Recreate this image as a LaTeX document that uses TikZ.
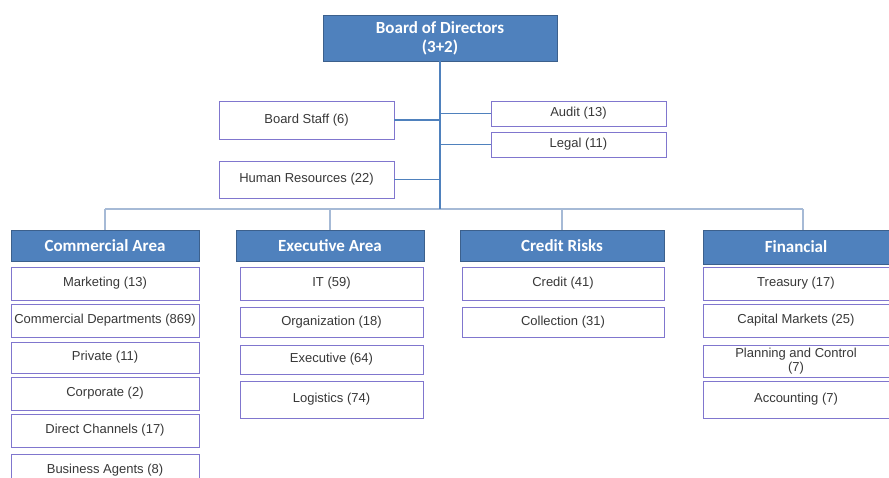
\documentclass[tikz,border=0pt]{standalone}
\usepackage{fontspec}
\setmainfont{Liberation Sans}
\newfontfamily\headfont{Carlito}
\usepackage{tikz}

\definecolor{headblue}{RGB}{79,129,189}
\definecolor{headedge}{RGB}{60,96,140}
\definecolor{unitedge}{RGB}{128,118,206}
\definecolor{buscol}{RGB}{166,186,214}

\begin{document}
\begin{tikzpicture}[
        x=1pt,y=-1pt,
        head/.style={draw=headedge,fill=headblue,text=white,font=\headfont\bfseries\fontsize{17}{19}\selectfont,
            inner sep=0pt,align=center},
        unit/.style={draw=unitedge,line width=0.9pt,fill=white,text=black!78,font=\fontsize{13}{15}\selectfont,
            inner sep=0pt,align=center},
        trunk/.style={draw=headblue,line width=1.8pt},
        bus/.style={draw=buscol,line width=1.4pt}]

    \useasboundingbox (0,0) rectangle (889,477);

    \node[head,minimum width=234,minimum height=46] (board) at (440,38) {Board of Directors\\(3+2)};

    \node[unit,minimum width=175,minimum height=38] (staff) at (306.5,120) {Board Staff (6)};
    \node[unit,minimum width=175,minimum height=37] (hr) at (306.5,179.5) {Human Resources (22)};
    \node[unit,minimum width=175,minimum height=25] (audit) at (578.5,113.5) {Audit (13)};
    \node[unit,minimum width=175,minimum height=25] (legal) at (578.5,144.5) {Legal (11)};

    \node[head,minimum width=188,minimum height=31] (com) at (105,245.5) {Commercial Area};
    \node[head,minimum width=188,minimum height=31] (exe) at (330,245.5) {Executive Area};
    \node[head,minimum width=204,minimum height=31] (cre) at (562,245.5) {Credit Risks};
    \node[head,minimum width=186,minimum height=34] (fin) at (796,247) {Financial};

    \coordinate (bus) at (440,209);

    \node[unit,minimum width=188,minimum height=33] (com1) at (105,283.5) {Marketing (13)};
    \node[unit,minimum width=188,minimum height=33] (com2) at (105,320.5) {Commercial Departments (869)};
    \node[unit,minimum width=188,minimum height=31] (com3) at (105,357.5) {Private (11)};
    \node[unit,minimum width=188,minimum height=33] (com4) at (105,393.5) {Corporate (2)};
    \node[unit,minimum width=188,minimum height=33] (com5) at (105,430.5) {Direct Channels (17)};
    \node[unit,minimum width=188,minimum height=33] (com6) at (105,470.5) {Business Agents (8)};

    \node[unit,minimum width=183,minimum height=33] (exe1) at (331.5,283.5) {IT (59)};
    \node[unit,minimum width=183,minimum height=30] (exe2) at (331.5,322) {Organization (18)};
    \node[unit,minimum width=183,minimum height=29] (exe3) at (331.5,359.5) {Executive (64)};
    \node[unit,minimum width=183,minimum height=37] (exe4) at (331.5,399.5) {Logistics (74)};

    \node[unit,minimum width=202,minimum height=33] (cre1) at (563,283.5) {Credit (41)};
    \node[unit,minimum width=202,minimum height=30] (cre2) at (563,322) {Collection (31)};

    \node[unit,minimum width=186,minimum height=33] (fin1) at (796,283.5) {Treasury (17)};
    \node[unit,minimum width=186,minimum height=33] (fin2) at (796,320.5) {Capital Markets (25)};
    \node[unit,minimum width=186,minimum height=32,font=\fontsize{13}{14}\selectfont] (fin3) at (796,361) {Planning and Control\\(7)};
    \node[unit,minimum width=186,minimum height=37] (fin4) at (796,399.5) {Accounting (7)};

    \draw[bus] (com.north |- bus) -- ([xshift=7]fin.north |- bus);
    \foreach \h in {com,exe,cre}
        \draw[bus] (\h.north) -- (\h.north |- bus);
    \draw[bus] ([xshift=7]fin.north) -- ([xshift=7]fin.north |- bus);

    \draw[trunk] (board.south) -- (bus);
    \foreach \u in {staff,hr}
        \draw[trunk] (\u.east) -- (\u.east -| board.south);
    \foreach \u in {audit,legal}
        \draw[trunk] (\u.west) -- (\u.west -| board.south);
\end{tikzpicture}
\end{document}
